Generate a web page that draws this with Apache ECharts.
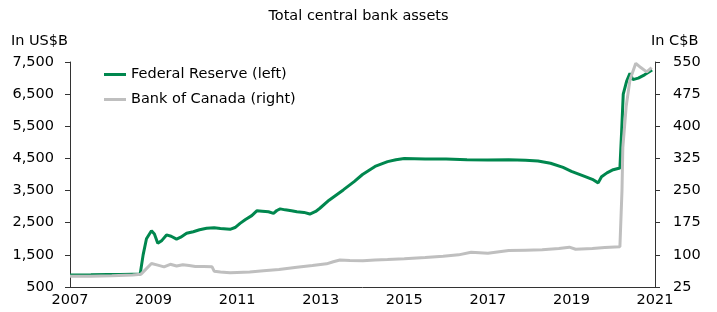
<!DOCTYPE html>
<html>
<head>
    <meta http-equiv="content-type" content="text/html;charset=utf-8">
    <script src="https://cdn.jsdelivr.net/npm/echarts@6/dist/echarts.min.js"></script>
    <style>
        html, body { margin: 0; padding: 0; background: #fff; }
        #assets { width: 717px; height: 312px; }
    </style>
</head>
<body>
<div id="assets"></div>

<script type="text/javascript">
    // Fed total assets, US$B (left axis)
    var fedYears = [2007.0, 2007.5, 2007.9, 2008.2, 2008.5, 2008.68, 2008.75, 2008.83, 2008.95, 2009.02,
        2009.1, 2009.2, 2009.31, 2009.42, 2009.55, 2009.65, 2009.79, 2009.95, 2010.1, 2010.27,
        2010.45, 2010.6, 2010.83, 2010.95, 2011.07, 2011.2, 2011.35, 2011.47, 2011.6, 2011.75,
        2011.87, 2011.95, 2012.03, 2012.15, 2012.3, 2012.43, 2012.6, 2012.74, 2012.88, 2012.98,
        2013.2, 2013.54, 2013.8, 2014.0, 2014.3, 2014.6, 2014.8, 2015.0, 2015.5, 2016.0,
        2016.5, 2017.0, 2017.5, 2017.9, 2018.2, 2018.5, 2018.8, 2019.0, 2019.3, 2019.5,
        2019.64, 2019.72, 2019.85, 2020.0, 2020.16, 2020.2, 2020.24, 2020.32, 2020.4, 2020.47,
        2020.6, 2020.75, 2020.93];
    var fedValues = [870, 880, 890, 890, 900, 905, 1500, 2000, 2250, 2150,
        1860, 1950, 2120, 2080, 1990, 2050, 2170, 2220, 2280, 2325,
        2340, 2320, 2295, 2350, 2480, 2600, 2720, 2870, 2860, 2840,
        2790, 2880, 2930, 2900, 2870, 2840, 2820, 2770, 2850, 2950,
        3200, 3520, 3780, 4000, 4250, 4400, 4460, 4500, 4480, 4480,
        4460, 4450, 4460, 4440, 4420, 4350, 4220, 4100, 3950, 3850,
        3740, 3930, 4050, 4150, 4200, 5300, 6500, 6900, 7150, 6950,
        7000, 7100, 7250];

    // Bank of Canada total assets, C$B (right axis)
    var bocYears = [2007.0, 2007.5, 2008.0, 2008.5, 2008.7, 2008.8, 2008.95, 2009.1, 2009.25, 2009.4,
        2009.55, 2009.7, 2009.85, 2010.0, 2010.2, 2010.4, 2010.45, 2010.6, 2010.83, 2011.0,
        2011.3, 2011.63, 2012.0, 2012.43, 2012.8, 2013.14, 2013.3, 2013.46, 2013.7, 2014.01,
        2014.3, 2014.6, 2015.0, 2015.5, 2015.93, 2016.3, 2016.6, 2017.0, 2017.5, 2017.9,
        2018.3, 2018.7, 2018.95, 2019.1, 2019.5, 2019.8, 2020.16, 2020.21, 2020.23, 2020.31,
        2020.4, 2020.54, 2020.66, 2020.8, 2020.92];
    var bocValues = [50, 50, 51, 53, 55, 65, 80, 76, 72, 78,
        74, 77, 75, 73, 73, 72, 62, 60, 58, 59,
        60, 63, 66, 71, 75, 79, 84, 88, 87, 86,
        88, 89, 91, 94, 97, 100, 106, 104, 110, 111,
        112, 115, 118, 113, 115, 117, 119, 250, 350, 446,
        508, 547, 537, 527, 537];

    var yearTicks = [2007, 2009, 2011, 2013, 2015, 2017, 2019, 2021];
    var leftTicks = [500, 1500, 2500, 3500, 4500, 5500, 6500, 7500];
    var rightTicks = [25, 100, 175, 250, 325, 400, 475, 550];

    function pairs(xs, ys) {
        var out = [];
        for (var i = 0; i < xs.length; i++) {
            out.push([xs[i], ys[i]]);
        }
        return out;
    }

    var font = 'DejaVu Sans';
    var axisColor = '#333';

    var myChart = echarts.init(document.getElementById('assets'));
    var option = {
        animation: false,
        title: {
            text: 'Total central bank assets',
            left: 'center',
            top: 4,
            textStyle: { fontFamily: font, fontSize: 14.5, fontWeight: 'normal', color: '#000' }
        },
        legend: {
            orient: 'vertical',
            left: 99,
            top: 62,
            icon: 'rect',
            itemWidth: 22,
            itemHeight: 3,
            itemGap: 10,
            textStyle: { fontFamily: font, fontSize: 14.5, color: '#000' },
            data: ['Federal Reserve (left)', 'Bank of Canada (right)']
        },
        grid: { left: 70, right: 62, top: 62, bottom: 25 },
        xAxis: {
            type: 'value',
            min: 2007,
            max: 2021,
            splitLine: { show: false },
            axisLine: { lineStyle: { color: axisColor } },
            axisTick: { show: false },
            axisLabel: {
                customValues: yearTicks,
                margin: 6,
                fontFamily: font, fontSize: 14.5, color: '#000',
                formatter: function (v) { return String(v); }
            }
        },
        yAxis: [
            {
                type: 'value',
                position: 'left',
                min: 500,
                max: 7500,
                name: 'In US$B',
                nameLocation: 'end',
                nameGap: 13,
                nameTextStyle: { fontFamily: font, fontSize: 14.5, color: '#000', align: 'right', padding: [0, 2, 0, 0] },
                splitLine: { show: false },
                axisLine: { show: true, lineStyle: { color: axisColor } },
                axisTick: { show: true, length: 5, customValues: leftTicks, lineStyle: { color: axisColor } },
                axisLabel: {
                    customValues: leftTicks,
                    margin: 16,
                    fontFamily: font, fontSize: 14.5, color: '#000',
                    formatter: function (v) { return v.toLocaleString('en-US'); }
                }
            },
            {
                type: 'value',
                position: 'right',
                min: 25,
                max: 550,
                name: 'In C$B',
                nameLocation: 'end',
                nameGap: 13,
                nameTextStyle: { fontFamily: font, fontSize: 14.5, color: '#000', align: 'left', padding: [0, 0, 0, -4] },
                splitLine: { show: false },
                axisLine: { show: true, lineStyle: { color: axisColor } },
                axisTick: { show: true, length: 5, customValues: rightTicks, lineStyle: { color: axisColor } },
                axisLabel: {
                    customValues: rightTicks,
                    margin: 18,
                    fontFamily: font, fontSize: 14.5, color: '#000'
                }
            }
        ],
        series: [
            {
                name: 'Federal Reserve (left)',
                type: 'line',
                yAxisIndex: 0,
                showSymbol: false,
                symbol: 'none',
                color: '#00874E',
                lineStyle: { width: 3, color: '#00874E' },
                data: pairs(fedYears, fedValues)
            },
            {
                name: 'Bank of Canada (right)',
                type: 'line',
                yAxisIndex: 1,
                showSymbol: false,
                symbol: 'none',
                color: '#BFBFBF',
                lineStyle: { width: 3, color: '#BFBFBF' },
                data: pairs(bocYears, bocValues)
            }
        ]
    };
    myChart.setOption(option);
</script>

</body>
</html>
